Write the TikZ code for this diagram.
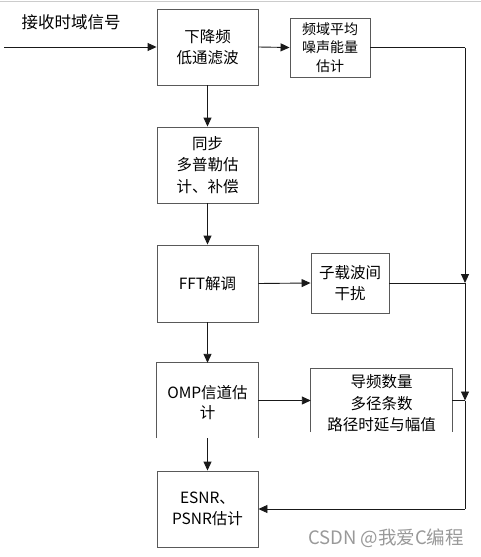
\documentclass[tikz,border=0pt]{standalone}
\usepackage{fontspec}
\setmainfont{Noto Sans CJK SC}
\usetikzlibrary{arrows.meta}
\begin{document}
\begin{tikzpicture}[x=1pt,y=-1pt,
  boxline/.style={draw=black!65,line width=0.9pt},
  blk/.style={boxline,inner sep=0pt,align=center,font=\fontsize{15.5}{21.5}\selectfont},
  openblk/.style={inner sep=0pt,align=center},
  conn/.style={draw=black!90,line width=0.9pt},
  arr/.style={conn,-{Triangle[length=9pt,width=8pt]}}]
\useasboundingbox (0,0) rectangle (481,557);
\draw[black!20,line width=1pt] (0,1) -- (481,1);
% blocks
\node[blk,minimum width=101pt,minimum height=76pt] (b1) at (207.5,47) {下降频\\低通滤波};
\node[blk,minimum width=80pt,minimum height=59pt,font=\fontsize{14}{18.5}\selectfont] (b2) at (330,47.5) {频域平均\\噪声能量\\估计};
\node[blk,minimum width=101pt,minimum height=76pt] (b3) at (207.5,165) {同步\\多普勒估\\计、补偿};
\node[blk,minimum width=101pt,minimum height=77pt] (b4) at (207.5,283.5) {FFT解调};
\node[blk,minimum width=78pt,minimum height=60pt] (b5) at (350,283) {子载波间\\干扰};
\node[openblk,minimum width=101pt,minimum height=75pt] (b6) at (207.5,400.5) {};
\node[font=\fontsize{15.5}{20}\selectfont,align=center,inner sep=0pt] (t6) at (207.5,403) {OMP信道估\\计};
\draw[boxline] (b6.south west) -- (b6.north west) -- (b6.north east) -- (b6.south east);
\node[openblk,minimum width=141pt,minimum height=63pt] (b7) at (381.5,400.5) {};
\node[font=\fontsize{15.5}{21.5}\selectfont,align=center,inner sep=0pt] (t7) at (381.5,403.5) {导频数量\\多径条数\\路径时延与幅值};
\draw[boxline] (b7.south west) -- (b7.north west) -- (b7.north east) -- (b7.south east);
\node[blk,minimum width=101pt,minimum height=76pt] (b8) at (207.5,509) {ESNR、\\PSNR估计};
% input
\coordinate (in) at (4,47);
\node[font=\fontsize{16.5}{18}\selectfont,inner sep=0pt] (lab) at (71,22) {接收时域信号};
\draw[arr] (in) -- (b1.west);
\draw[arr] (b1.east) -- (b2.west);
\draw[arr] (b1.south) -- (b3.north);
\draw[arr] (b3.south) -- (b4.north);
\draw[arr] (b4.east) -- (b5.west);
\draw[arr] (b4.south) -- (b6.north);
\draw[arr] (b6.south) -- (b8.north);
\draw[arr] (b6.east) -- (b7.west);
% right bus
\coordinate (r1) at (465,47.5);
\coordinate (r2) at (465,283);
\coordinate (r3) at (465,400.5);
\coordinate (r4) at (465,509);
\draw[conn] (b2.east) -- (r1);
\draw[arr] (r1) -- (r2);
\draw[arr] (r2) -- (r3);
\draw[conn] (b5.east) -- (r2);
\draw[conn] (b7.east) -- (r3);
\draw[conn] (r3) -- (r4);
\draw[arr] (r4) -- (b8.east);
% watermark
\node[text=black!40,font=\fontsize{18.5}{20}\selectfont,inner sep=0pt] (wm) at (386,538) {CSDN @我爱C编程};
\end{tikzpicture}
\end{document}
